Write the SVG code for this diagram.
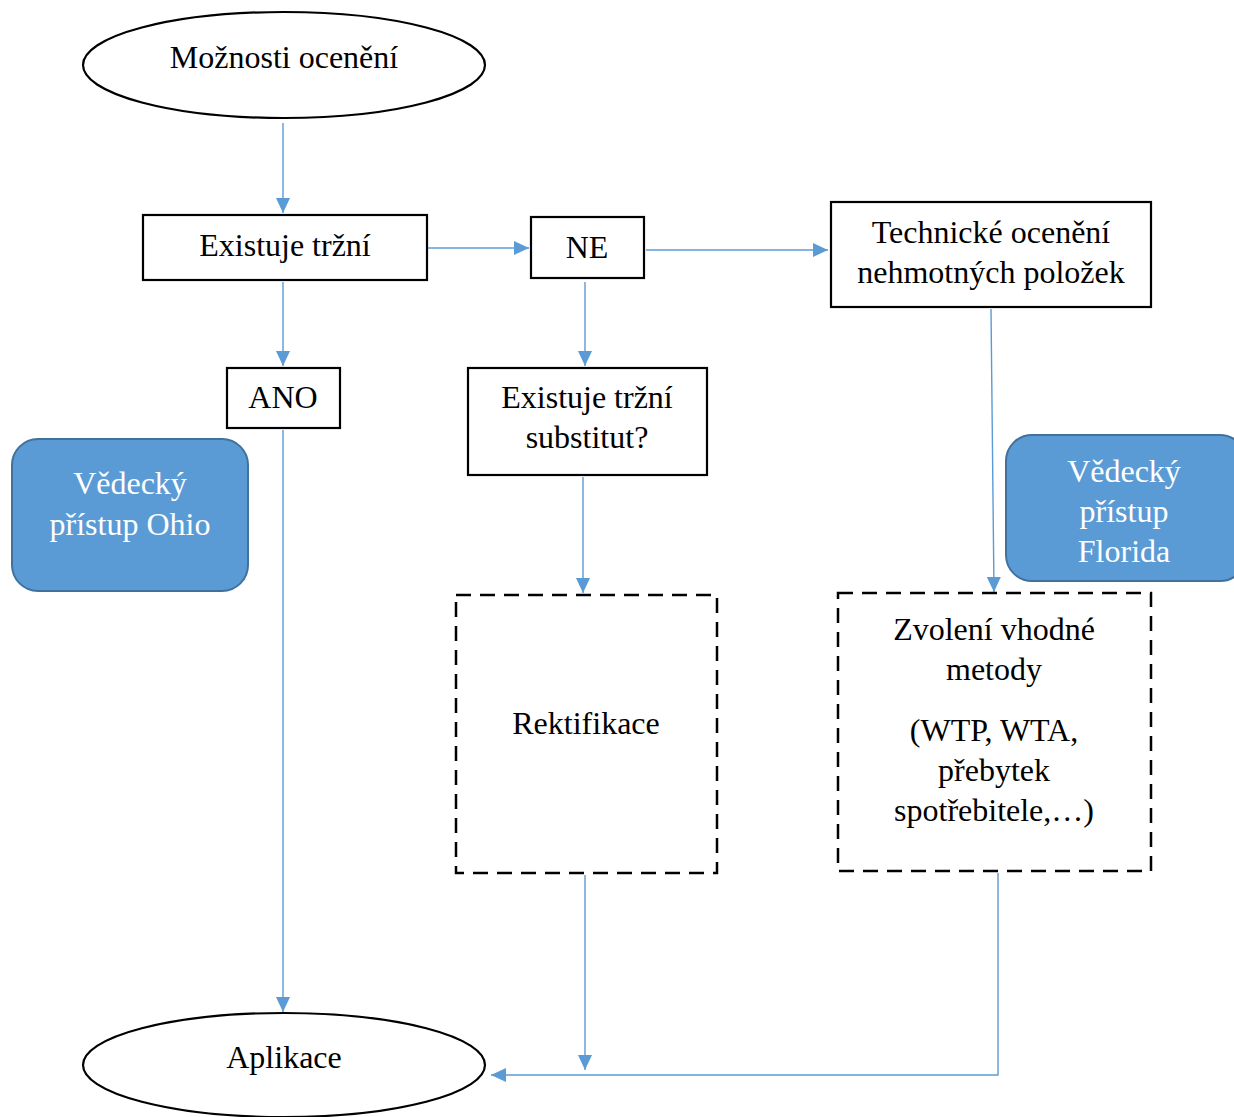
<svg xmlns="http://www.w3.org/2000/svg" width="1234" height="1117" viewBox="0 0 1234 1117">
<defs>
<style>
.t{font-family:"Liberation Serif","Times New Roman",serif;font-size:32px;fill:#000;text-anchor:middle}
.w{fill:#fff}
.box{fill:#fff;stroke:#000;stroke-width:2.2}
.dash{fill:#fff;stroke:#000;stroke-width:2.5;stroke-dasharray:15 9}
.blue{fill:#5B9BD5;stroke:#41719C;stroke-width:2}
.c{fill:none;stroke:#5B9BD5;stroke-width:1.4}
</style>
<marker id="ah" markerUnits="userSpaceOnUse" markerWidth="16" markerHeight="14" refX="15" refY="7" orient="auto">
<path d="M0,0 L15,7 L0,14 Z" fill="#5B9BD5"/>
</marker>
</defs>
<rect width="1234" height="1117" fill="#fff"/>
<g id="connectors">
<line class="c" x1="283" y1="123" x2="283" y2="213" marker-end="url(#ah)"/>
<line class="c" x1="424" y1="248" x2="529" y2="248" marker-end="url(#ah)"/>
<line class="c" x1="646" y1="250" x2="828" y2="250" marker-end="url(#ah)"/>
<line class="c" x1="283" y1="282" x2="283" y2="366" marker-end="url(#ah)"/>
<line class="c" x1="585" y1="282" x2="585" y2="366" marker-end="url(#ah)"/>
<line class="c" x1="583" y1="477" x2="583" y2="593" marker-end="url(#ah)"/>
<line class="c" x1="991" y1="309" x2="994" y2="592" marker-end="url(#ah)"/>
<line class="c" x1="283" y1="430" x2="283" y2="1012" marker-end="url(#ah)"/>
<line class="c" x1="585" y1="875" x2="585" y2="1070" marker-end="url(#ah)"/>
<polyline class="c" points="998,873 998,1075 491,1075" marker-end="url(#ah)"/>
</g>
<g id="start">
<ellipse cx="284" cy="65" rx="201" ry="53" class="box"/>
<text class="t" x="284" y="68">Možnosti ocenění</text>
</g>
<g id="existuje">
<rect x="143" y="215" width="284" height="65" class="box"/>
<text class="t" x="285" y="256">Existuje tržní</text>
</g>
<g id="ne">
<rect x="531" y="217" width="113" height="61" class="box"/>
<text class="t" x="587" y="258">NE</text>
</g>
<g id="technicke">
<rect x="831" y="202" width="320" height="105" class="box"/>
<text class="t" x="991" y="243">Technické ocenění</text>
<text class="t" x="991" y="283">nehmotných položek</text>
</g>
<g id="ano">
<rect x="227" y="368" width="113" height="60" class="box"/>
<text class="t" x="283" y="408">ANO</text>
</g>
<g id="substitut">
<rect x="468" y="368" width="239" height="107" class="box"/>
<text class="t" x="587" y="408">Existuje tržní</text>
<text class="t" x="587" y="448">substitut?</text>
</g>
<g id="ohio">
<rect x="12" y="439" width="236" height="152" rx="26" class="blue"/>
<text class="t w" x="130" y="494">Vědecký</text>
<text class="t w" x="130" y="535">přístup Ohio</text>
</g>
<g id="florida">
<rect x="1006" y="435" width="240" height="146" rx="26" class="blue"/>
<text class="t w" x="1124" y="482">Vědecký</text>
<text class="t w" x="1124" y="522">přístup</text>
<text class="t w" x="1124" y="562">Florida</text>
</g>
<g id="rektifikace">
<rect x="456" y="595" width="261" height="278" class="dash"/>
<text class="t" x="586" y="734">Rektifikace</text>
</g>
<g id="zvoleni">
<rect x="838" y="593" width="313" height="278" class="dash"/>
<text class="t" x="994" y="640">Zvolení vhodné</text>
<text class="t" x="994" y="680">metody</text>
<text class="t" x="994" y="741">(WTP, WTA,</text>
<text class="t" x="994" y="781">přebytek</text>
<text class="t" x="994" y="821">spotřebitele,…)</text>
</g>
<g id="aplikace">
<ellipse cx="284" cy="1065" rx="201" ry="52" class="box"/>
<text class="t" x="284" y="1068">Aplikace</text>
</g>
</svg>
